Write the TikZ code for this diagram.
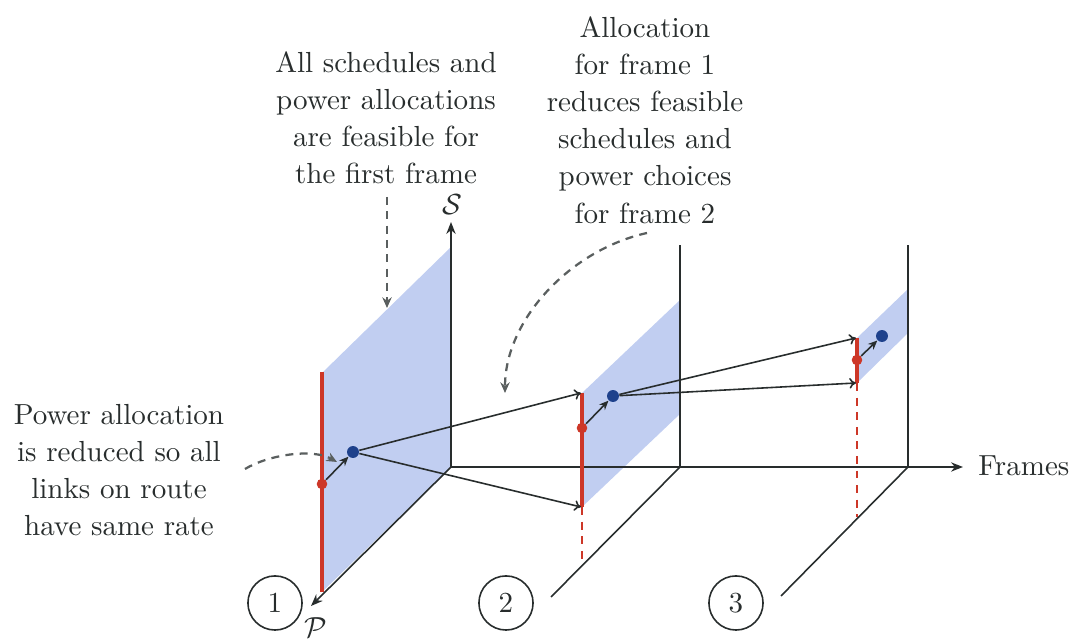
\documentclass[tikz,border=0pt]{standalone}
\usetikzlibrary{arrows.meta}
\definecolor{txt}{RGB}{40,45,45}
\definecolor{lineC}{RGB}{40,45,45}
\definecolor{planeC}{RGB}{193,206,241}
\definecolor{redC}{RGB}{205,55,40}
\definecolor{dotB}{RGB}{30,65,140}
\definecolor{dashC}{RGB}{90,95,95}
\begin{document}
\begin{tikzpicture}[x=0.377pt,y=-0.377pt,
  axis/.style={draw=lineC, line width=0.6pt},
  axisarrow/.style={axis, -{Stealth[length=4.5pt,width=3.5pt]}},
  conn/.style={draw=lineC, line width=0.6pt, -{To[length=2.5pt,width=4pt]}},
  shortarr/.style={draw=lineC, line width=0.6pt, -{Stealth[length=3.5pt,width=3pt]}},
  redline/.style={draw=redC, line width=1.25pt},
  reddash/.style={draw=redC, line width=0.75pt, dash pattern=on 3pt off 2.5pt},
  plane/.style={fill=planeC, draw=none},
  rdot/.style={circle, fill=redC, inner sep=0pt, minimum size=4pt},
  bdot/.style={circle, fill=dotB, inner sep=0pt, minimum size=4.5pt},
  note/.style={align=center, text=txt, font=\fontsize{10.95}{14}\selectfont},
  callout/.style={draw=dashC, line width=0.85pt, dash pattern=on 3pt off 2.4pt, -{Stealth[length=4pt,width=3.5pt]}},
  num/.style={circle, draw=lineC, line width=0.6pt, minimum size=20.4pt, inner sep=0pt, text=txt, font=\fontsize{10.95}{14}\selectfont},
]
\useasboundingbox (0,0) rectangle (1085,641);

% key points
\coordinate (O1) at (451,467);
\coordinate (O2) at (680,467);
\coordinate (O3) at (908,467);
\coordinate (Stip) at (451,222);
\coordinate (Ptip) at (311,606);
\coordinate (Ftip) at (963,467);
\coordinate (V2) at (680,245);
\coordinate (V3) at (908,245);
\coordinate (D2) at (551,597);
\coordinate (D3) at (781,596);

% planes / bands
\path[plane] (451,467) -- (451,247) -- (322,373) -- (322,592) -- cycle;
\path[plane] (582,393) -- (582,507) -- (680,414) -- (680,300) -- cycle;
\path[plane] (857,338) -- (857,383) -- (908,333) -- (908,289) -- cycle;

% axes
\draw[axisarrow] (O1) -- (Stip);
\draw[axisarrow] (O1) -- (Ptip);
\draw[axisarrow] (O1) -- (Ftip);
\draw[axis] (O2) -- (V2);
\draw[axis] (O2) -- (D2);
\draw[axis] (O3) -- (V3);
\draw[axis] (O3) -- (D3);

% red segments
\coordinate (T1) at (322,372);
\coordinate (B1) at (322,592);
\coordinate (T2) at (582,393);
\coordinate (B2) at (582,507);
\coordinate (G2) at (582,563);
\coordinate (T3) at (857,338);
\coordinate (B3) at (857,383);
\coordinate (G3) at (857,517);
\draw[redline] (T1) -- (B1);
\draw[redline] (T2) -- (B2);
\draw[reddash] (B2) -- (G2);
\draw[redline] (T3) -- (B3);
\draw[reddash] (B3) -- (G3);

% dots
\node[rdot] (r1) at (322,484) {};
\node[bdot] (b1) at (353,452) {};
\node[rdot] (r2) at (582,428) {};
\node[bdot] (b2) at (613,396) {};
\node[rdot] (r3) at (857,360) {};
\node[bdot] (b3) at (882,336) {};

% arrows
\draw[shortarr] (r1) -- (b1);
\draw[shortarr] (r2) -- (b2);
\draw[shortarr] (r3) -- (b3);
\coordinate (a2t) at (581,393);
\coordinate (a2b) at (581,507);
\coordinate (a3t) at (856,338);
\coordinate (a3b) at (856,383);
\draw[conn] (b1) -- (a2t);
\draw[conn] (b1) -- (a2b);
\draw[conn] (b2) -- (a3t);
\draw[conn] (b2) -- (a3b);

% labels
\node[note] (lS) at (452,205) {$\mathcal{S}$};
\node[note] (lP) at (316,628) {$\mathcal{P}$};
\node[note, anchor=west] (lF) at (969,466) {Frames};
\node[num] (n1) at (275,603) {1};
\node[num] (n2) at (506,603) {2};
\node[num] (n3) at (736,603) {3};

% annotations
\node[note] (tL) at (119,470) {Power allocation\\is reduced so all\\links on route\\have same rate};
\node[note] (tM) at (386,118) {All schedules and\\power allocations\\are feasible for\\the first frame};
\node[note] (tR) at (645,120) {Allocation\\for frame 1\\reduces feasible\\schedules and\\power choices\\for frame 2};

\coordinate (cL0) at (245,469);
\coordinate (cL1) at (337,462);
\coordinate (cM0) at (387,197);
\coordinate (cM1) at (387,308);
\coordinate (cR0) at (647,233);
\coordinate (cR1) at (505,393);
\draw[callout] (cL0) .. controls (268,455) and (312,448) .. (cL1);
\draw[callout] (cM0) -- (cM1);
\draw[callout] (cR0) .. controls (570,250) and (505,320) .. (cR1);
\end{tikzpicture}
\end{document}
